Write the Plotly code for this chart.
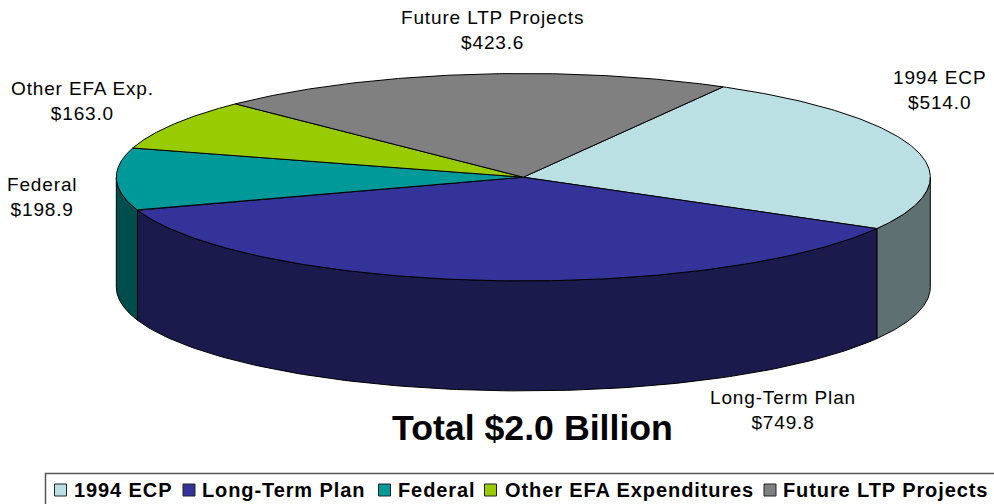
import numpy as np
import plotly.graph_objects as go

# Data
categories = ["1994 ECP", "Long-Term Plan", "Federal", "Other EFA Expenditures", "Future LTP Projects"]
label_names = ["1994 ECP", "Long-Term Plan", "Federal", "Other EFA Exp.", "Future LTP Projects"]
values = [514.0, 749.8, 198.9, 163.0, 423.6]
title_text = "Total $2.0 Billion"

# Style
top_colors = ["#BBE0E3", "#333399", "#009999", "#99CC00", "#808080"]
wall_colors = ["#5E7072", "#1A1A4D", "#004D4D", "#4D6600", "#404040"]
CX, CY, RX, RY, DEPTH = 523.3, 177.2, 407, 103.7, 110
START = 29.4  # degrees clockwise from the top

W, H = 994, 504


def pt(deg, drop=0.0):
    a = np.radians(deg)
    return CX + RX * np.sin(a), CY - RY * np.cos(a) + drop


edges = START + 360 * np.concatenate([[0], np.cumsum(values)]) / sum(values)
fig = go.Figure()

# Walls: only the front half of the cylinder is visible
for wrap in (0, 360):
    for i in range(len(values)):
        lo, hi = max(edges[i] - wrap, 90), min(edges[i + 1] - wrap, 270)
        if hi <= lo:
            continue
        t = np.linspace(lo, hi, 120)
        xa, ya = pt(t)
        xb, yb = pt(t[::-1], DEPTH)
        fig.add_trace(go.Scatter(
            x=np.r_[xa, xb, xa[0]], y=np.r_[ya, yb, ya[0]], mode="lines", fill="toself",
            fillcolor=wall_colors[i], line=dict(color="#000000", width=1),
            hoverinfo="skip", showlegend=False))

# Top face
for i, name in enumerate(categories):
    t = np.linspace(edges[i], edges[i + 1], 160)
    xa, ya = pt(t)
    fig.add_trace(go.Scatter(
        x=np.r_[CX, xa, CX], y=np.r_[CY, ya, CY], mode="lines", fill="toself",
        fillcolor=top_colors[i], line=dict(color="#000000", width=1),
        name=name, text=f"{name}: ${values[i]:.1f}", hoverinfo="text", showlegend=False))

# Slice labels
label_xy = [(939.5, 90), (782.5, 410), (42, 197), (82, 100.5), (492.5, 29.5)]
annotations = []
for name, v, (x, y) in zip(label_names, values, label_xy):
    annotations.append(dict(
        x=x, y=y, xref="x", yref="y", showarrow=False, align="center",
        text=f"<span style='letter-spacing:0.85px'>{name}<br>${v:.1f}</span>",
        font=dict(family="Liberation Sans", size=19, color="#000000")))

annotations.append(dict(
    x=532.7, y=428, xref="x", yref="y", showarrow=False, text=title_text,
    font=dict(family="Liberation Sans", size=35.7, color="#000000", weight="bold")))

# Hand-placed legend row (compact spacing that the native legend cannot reach)
swatch_x = [60.5, 189, 384.5, 490.5, 770]
text_x = [71.5, 200, 395.5, 502.5, 781]
fig.add_trace(go.Scatter(
    x=swatch_x, y=[490] * 5, mode="markers", hoverinfo="skip", showlegend=False,
    marker=dict(symbol="square", size=12, color=top_colors, line=dict(color="#222222", width=1))))
for name, x in zip(categories, text_x):
    annotations.append(dict(
        x=x, y=490, xref="x", yref="y", showarrow=False, xanchor="left",
        text=f"<span style='letter-spacing:0.9px'>{name}</span>",
        font=dict(family="Liberation Sans", size=20, color="#000000", weight="bold")))

fig.update_layout(
    width=W, height=H, margin=dict(l=0, r=0, t=0, b=0),
    paper_bgcolor="#FFFFFF", plot_bgcolor="#FFFFFF",
    xaxis=dict(range=[0, W], visible=False, fixedrange=True),
    yaxis=dict(range=[H, 0], visible=False, fixedrange=True),
    annotations=annotations,
    shapes=[dict(type="rect", xref="x", yref="y", x0=45.5, y0=473.5, x1=1010, y1=520,
                 line=dict(color="#555555", width=1.5), fillcolor="rgba(0,0,0,0)")],
)
fig.write_html("out.html", config=dict(displayModeBar=False),
               post_script="document.body.style.margin='0';document.body.style.overflow='hidden';")
